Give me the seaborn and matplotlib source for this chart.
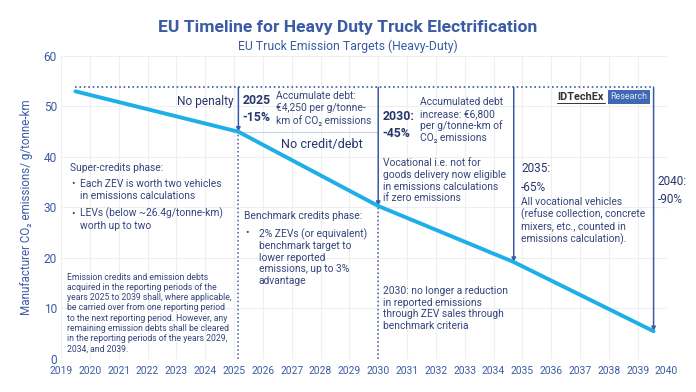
import matplotlib
matplotlib.use("Agg")
import numpy as np
import pandas as pd
import matplotlib.pyplot as plt
import seaborn as sns

# ── data ──────────────────────────────────────────────
years = [2019.5, 2025.15, 2030.0, 2034.7, 2039.55]
co2 = [53.0, 45.0, 30.3, 19.2, 5.5]
baseline = 53.8
xticks = list(range(2019, 2041))
yticks = [0, 10, 20, 30, 40, 50, 60]

milestones = ["2025\n-15%", "2030:\n-45%", "2035:\n-65%", "2040:\n-90%"]

# ── style ─────────────────────────────────────────────
sns.set_style("whitegrid")
plt.rcParams['font.family'] = ['Roboto', 'DejaVu Sans']
LINE = '#1eaee8'
BLUE = '#3b5ba5'
NAVY = '#27376c'
TXT = '#34457c'
FS = 7.4   # body text size

fig = plt.figure(figsize=(6.96, 3.92), dpi=100)
ax = fig.add_axes([0.0877, 0.0842, 0.870, 0.773])

df = pd.DataFrame({'year': years, 'co2': co2})
sns.lineplot(data=df, x='year', y='co2', ax=ax, color=LINE, lw=2.8, zorder=5)

ax.set_xlim(2019, 2040)
ax.set_ylim(0, 60)
ax.set_xticks(xticks)
ax.set_yticks(yticks)
ax.tick_params(axis='x', labelsize=7.4, colors=BLUE, pad=5, length=0)
ax.tick_params(axis='y', labelsize=8.6, colors=BLUE, pad=3, length=0)
ax.grid(color='#efefef', lw=0.8)
for s in ax.spines.values():
    s.set_visible(False)
ax.set_xlabel('')
ax.set_ylabel('Manufacturer CO₂ emissions/ g/tonne-km', color=BLUE, fontsize=8.4, labelpad=8)

# baseline dotted line
ax.plot([years[0], years[-1]], [baseline, baseline], color=BLUE, ls=':', lw=1.2, zorder=3)

# milestone arrows
for x, y in zip(years[1:], co2[1:]):
    ax.annotate('', xy=(x, y), xytext=(x, baseline),
                arrowprops=dict(arrowstyle='-|>', color=BLUE, lw=1.1,
                                mutation_scale=6, shrinkA=0, shrinkB=0), zorder=4)
# dotted drop lines for 2025 and 2030
for x, y in zip(years[1:3], co2[1:3]):
    ax.plot([x, x], [0, y], color=BLUE, ls=':', lw=1.1, zorder=3)
# thin box line under 2025 debt text
ax.plot([years[1], years[2]], [co2[1], co2[1]], color='#c9d3ea', lw=0.8, zorder=3)

# ── text annotations ──────────────────────────────────
ax.text(2025.0, 51.0, 'No penalty', ha='right', va='center', fontsize=8.6, color=NAVY)
ax.text(2025.3, 49.6, milestones[0], ha='left', va='center', fontsize=8.8,
        fontweight='bold', color=NAVY, linespacing=1.4)
ax.text(2026.45, 49.6, 'Accumulate debt:\n€4,250 per g/tonne-\nkm of CO₂ emissions',
        ha='left', va='center', fontsize=FS, color=TXT, linespacing=1.2)
ax.text(2029.45, 42.4, 'No credit/debt', ha='right', va='center', fontsize=9.1, color=NAVY)
ax.text(2030.15, 46.3, milestones[1], ha='left', va='center', fontsize=8.8,
        fontweight='bold', color=NAVY, linespacing=1.4)
ax.text(2031.45, 47.3, 'Accumulated debt\nincrease: €6,800\nper g/tonne-km of\nCO₂ emissions',
        ha='left', va='center', fontsize=FS, color=TXT, linespacing=1.2)
ax.text(2030.15, 35.3, 'Vocational i.e. not for\ngoods delivery now eligible\nin emissions calculations\nif zero emissions',
        ha='left', va='center', fontsize=FS, color=TXT, linespacing=1.2)
ax.text(2025.35, 28.3, 'Benchmark credits phase:', ha='left', va='center', fontsize=FS, color=TXT)
ax.text(2025.4, 24.9, '•', ha='left', va='center', fontsize=FS, color=TXT)
ax.text(2025.85, 20.2, '2% ZEVs (or equivalent)\nbenchmark target to\nlower reported\nemissions, up to 3%\nadvantage',
        ha='left', va='center', fontsize=FS, color=TXT, linespacing=1.2)
ax.text(2030.15, 10.0, '2030: no longer a reduction\nin reported emissions\nthrough ZEV sales through\nbenchmark criteria',
        ha='left', va='center', fontsize=FS, color=TXT, linespacing=1.2)
ax.text(2034.95, 35.8, milestones[2], ha='left', va='center', fontsize=8.5,
        color=NAVY, linespacing=1.6)
ax.text(2034.95, 27.4, 'All vocational vehicles\n(refuse collection, concrete\nmixers, etc., counted in\nemissions calculation).',
        ha='left', va='center', fontsize=FS, color=TXT, linespacing=1.2)
ax.text(2039.7, 33.4, milestones[3], ha='left', va='center', fontsize=8.5,
        color=NAVY, linespacing=1.5)

ax.text(2019.3, 37.8, 'Super-credits phase:', ha='left', va='center', fontsize=FS, color=TXT)
ax.text(2019.35, 34.6, '•', ha='left', va='center', fontsize=FS, color=TXT)
ax.text(2019.66, 33.5, 'Each ZEV is worth two vehicles\nin emissions calculations',
        ha='left', va='center', fontsize=FS, color=TXT, linespacing=1.2)
ax.text(2019.35, 28.8, '•', ha='left', va='center', fontsize=FS, color=TXT)
ax.text(2019.66, 27.7, 'LEVs (below ~26.4g/tonne-km)\nworth up to two',
        ha='left', va='center', fontsize=FS, color=TXT, linespacing=1.2)
ax.text(2019.2, 9.1, 'Emission credits and emission debts\nacquired in the reporting periods of the\n'
        'years 2025 to 2039 shall, where applicable,\nbe carried over from one reporting period\n'
        'to the next reporting period. However, any\nremaining emission debts shall be cleared\n'
        'in the reporting periods of the years 2029,\n2034, and 2039.',
        ha='left', va='center', fontsize=6.25, color=TXT, linespacing=1.17)

# logo
ax.text(2036.2, 51.9, 'IDTechEx', ha='left', va='center', fontsize=7.8,
        color='#333333', fontweight='bold')
ax.text(2038.05, 51.9, 'Research', ha='left', va='center', fontsize=6.4, color='#dce6f7',
        bbox=dict(boxstyle='square,pad=0.25', fc='#4068b3', ec='none'))
ax.plot([2036.2, 2037.85], [50.7, 50.7], color='#333333', lw=0.7)

# titles
fig.text(0.5, 0.93, 'EU Timeline for Heavy Duty Truck Electrification', ha='center',
         va='center', fontsize=12.6, fontweight='bold', color=BLUE)
fig.text(0.5, 0.883, 'EU Truck Emission Targets (Heavy-Duty)', ha='center',
         va='center', fontsize=8.8, color=BLUE)

fig.savefig('out.png', dpi=100)
